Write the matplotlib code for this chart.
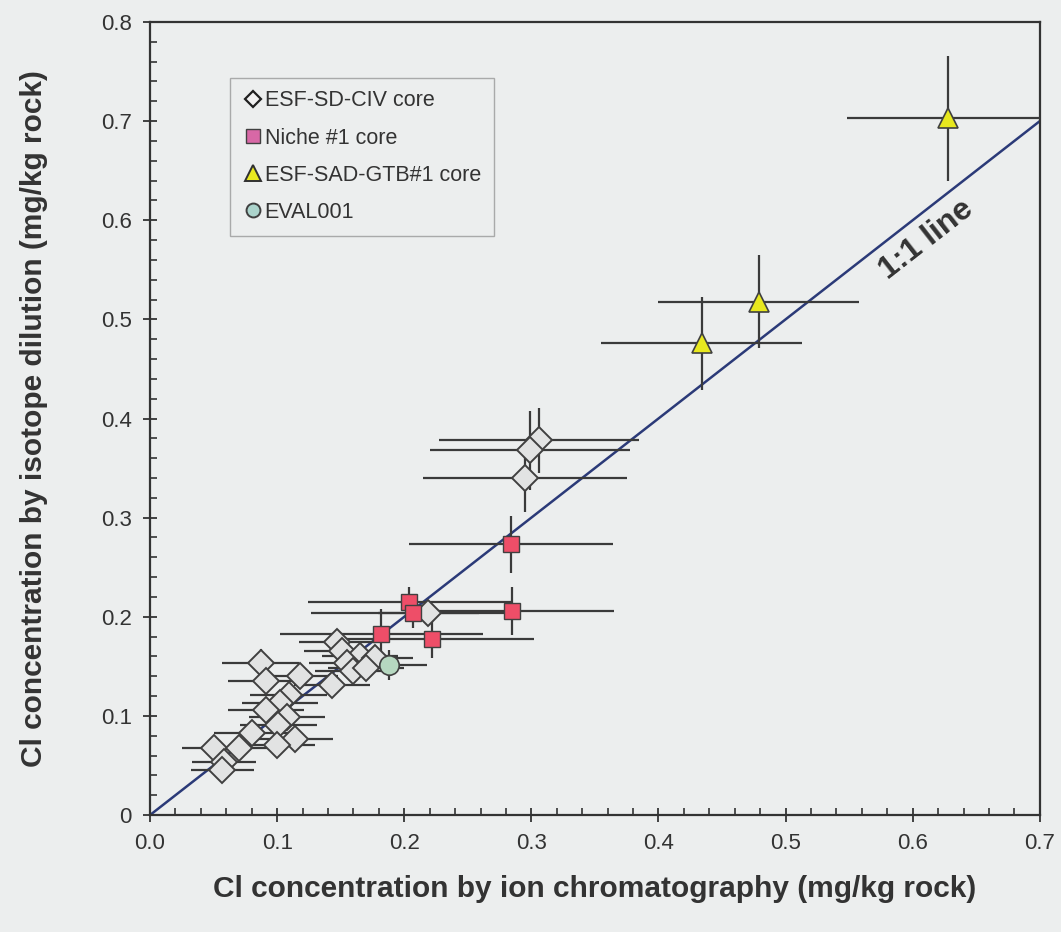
import numpy as np
import matplotlib
matplotlib.use("Agg")
import matplotlib.pyplot as plt
from matplotlib.ticker import MultipleLocator
from matplotlib.lines import Line2D

plt.rcParams['font.family'] = ['Liberation Sans', 'DejaVu Sans']

# ESF-SD-CIV core (diamonds)
civ_x = [0.306, 0.299, 0.295, 0.219, 0.147, 0.151, 0.165, 0.177, 0.155, 0.160,
         0.170, 0.143, 0.118, 0.087, 0.091, 0.109, 0.102, 0.091, 0.108, 0.101,
         0.080, 0.114, 0.100, 0.050, 0.070, 0.058, 0.057]
civ_y = [0.378, 0.368, 0.340, 0.204, 0.175, 0.165, 0.160, 0.158, 0.153, 0.145,
         0.148, 0.131, 0.140, 0.153, 0.135, 0.121, 0.113, 0.106, 0.099, 0.091,
         0.083, 0.077, 0.071, 0.068, 0.068, 0.053, 0.045]
civ_xerr = [0.079, 0.079, 0.080, 0.040, 0.030, 0.030, 0.030, 0.030, 0.030, 0.030,
            0.030, 0.030, 0.030, 0.030, 0.030, 0.030, 0.030, 0.030, 0.030, 0.030,
            0.030, 0.030, 0.030, 0.025, 0.030, 0.025, 0.025]
civ_yerr = [0.033, 0.040, 0.034, 0.012, 0.013, 0.012, 0.012, 0.012, 0.012, 0.012,
            0.012, 0.012, 0.012, 0.014, 0.012, 0.012, 0.012, 0.012, 0.012, 0.012,
            0.012, 0.012, 0.012, 0.008, 0.008, 0.008, 0.008]

# Niche #1 core (squares)
niche_x = [0.284, 0.285, 0.204, 0.207, 0.182, 0.222]
niche_y = [0.273, 0.206, 0.215, 0.204, 0.183, 0.178]
niche_xerr = [0.080, 0.080, 0.080, 0.080, 0.080, 0.080]
niche_yerr = [0.029, 0.024, 0.015, 0.015, 0.025, 0.020]

# ESF-SAD-GTB#1 core (triangles)
gtb_x = [0.628, 0.479, 0.434]
gtb_y = [0.703, 0.518, 0.476]
gtb_xerr = [0.080, 0.079, 0.079]
gtb_yerr = [0.063, 0.047, 0.047]

# EVAL001 (circle)
eval_x = [0.188]
eval_y = [0.151]
eval_xerr = [0.030]
eval_yerr = [0.015]

bg = '#eceeee'
dark = '#333333'

fig = plt.figure(figsize=(10.61, 9.32), dpi=100, facecolor=bg)
ax = fig.add_axes([0.1414, 0.1255, 0.8386, 0.8509])
ax.set_facecolor(bg)

ax.plot([0, 0.7], [0, 0.7], color='#2b3a78', lw=1.8, zorder=2)

err_kw = dict(ls='none', ecolor='#3a3a3a', elinewidth=1.6, capsize=0, zorder=3)
ax.errorbar(civ_x, civ_y, xerr=civ_xerr, yerr=civ_yerr, marker='D', ms=13,
            mfc='#e2e3e3', mec='#404040', mew=1.4, **err_kw)
ax.errorbar(niche_x, niche_y, xerr=niche_xerr, yerr=niche_yerr, marker='s', ms=12,
            mfc='#ee4e68', mec='#404040', mew=1.0, **err_kw)
ax.errorbar(gtb_x, gtb_y, xerr=gtb_xerr, yerr=gtb_yerr, marker='^', ms=15,
            mfc='#e8e81e', mec='#404040', mew=1.2, **err_kw)
ax.errorbar(eval_x, eval_y, xerr=eval_xerr, yerr=eval_yerr, marker='o', ms=14,
            mfc='#b6d8c0', mec='#404040', mew=1.2, **err_kw)

ax.set_xlim(0, 0.7)
ax.set_ylim(0, 0.8)
ax.set_xticks(np.arange(0, 0.71, 0.1))
ax.set_xticklabels([f'{v:.1f}' for v in np.arange(0, 0.71, 0.1)])
ax.xaxis.set_minor_locator(MultipleLocator(0.02))
ax.set_yticks(np.arange(0, 0.81, 0.1))
ax.set_yticklabels(['0'] + [f'{v:.1f}' for v in np.arange(0.1, 0.81, 0.1)])
ax.yaxis.set_minor_locator(MultipleLocator(0.02))
ax.tick_params(which='major', direction='inout', length=10, width=1.3, labelsize=16,
               colors=dark, pad=8)
ax.tick_params(which='minor', direction='in', length=5, width=1.2, colors=dark)
for s in ax.spines.values():
    s.set_color(dark)
    s.set_linewidth(1.6)

ax.set_xlabel('Cl concentration by ion chromatography (mg/kg rock)', fontsize=21.5,
              fontweight='bold', color=dark, labelpad=15)
ax.set_ylabel('Cl concentration by isotope dilution (mg/kg rock)', fontsize=21.5,
              fontweight='bold', color=dark, labelpad=38)

ax.text(0.611, 0.58, '1:1 line', rotation=38, fontsize=23, fontweight='bold',
        color=dark, ha='center', va='center')

handles = [
    Line2D([], [], ls='none', marker='D', ms=8, mfc='#f2f2f2', mec='#202020', mew=1.6),
    Line2D([], [], ls='none', marker='s', ms=10, mfc='#d868a6', mec='#404040', mew=1.0),
    Line2D([], [], ls='none', marker='^', ms=11, mfc='#e8e81e', mec='#303030', mew=1.4),
    Line2D([], [], ls='none', marker='o', ms=10, mfc='#acd4cc', mec='#404040', mew=1.4),
]
labels = ['ESF-SD-CIV core', 'Niche #1 core', 'ESF-SAD-GTB#1 core', 'EVAL001']
leg = ax.legend(handles, labels, loc='upper left', bbox_to_anchor=(0.09, 0.93),
                fontsize=15.5, frameon=True, fancybox=False, handletextpad=0.1,
                handlelength=0.9, borderpad=0.6, labelspacing=0.75,
                borderaxespad=0)
leg.get_frame().set_edgecolor('#999999')
leg.get_frame().set_facecolor(bg)
leg.get_frame().set_linewidth(1.0)
for t in leg.get_texts():
    t.set_color(dark)

fig.savefig('out.png', dpi=100, facecolor=fig.get_facecolor())
